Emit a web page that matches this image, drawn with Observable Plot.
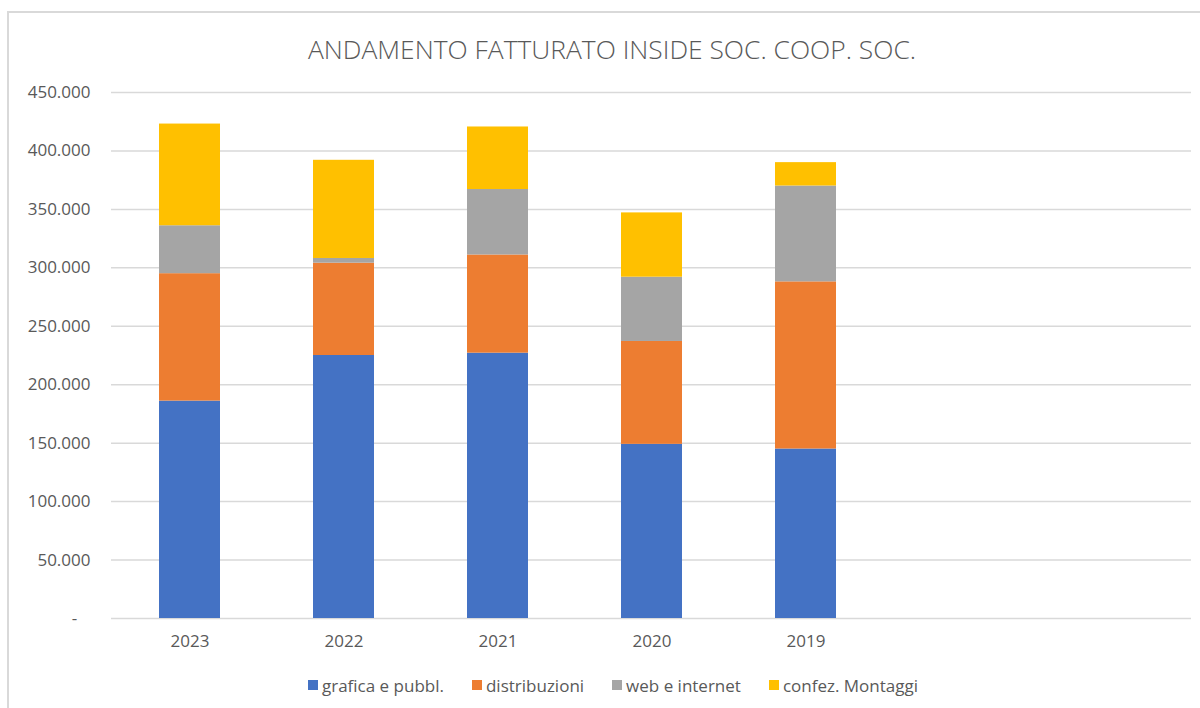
<!DOCTYPE html>
<html><head><meta charset="utf-8">
<script src="https://cdn.jsdelivr.net/npm/d3@7"></script>
<script src="https://cdn.jsdelivr.net/npm/@observablehq/plot@0.6"></script>
<style>
body{margin:0;background:#fff;}
#wrap{position:relative;width:1200px;height:708px;overflow:hidden;font-family:"Open Sans",sans-serif;background:#fff;}
#frame{position:absolute;left:7px;top:11px;width:1300px;height:800px;border:2px solid #d9d9d9;box-sizing:border-box;pointer-events:none;}
#title{height:72px;box-sizing:border-box;padding-top:35px;padding-left:24px;text-align:center;font-size:26.4px;line-height:28px;font-weight:300;color:#595959;white-space:nowrap;}
#chart svg{display:block;}
#legend{height:46px;box-sizing:border-box;padding-left:26px;display:flex;justify-content:center;align-items:center;gap:28px;font-size:17px;color:#595959;}
#legend .item{display:flex;align-items:center;gap:4px;}
#legend .sw{width:10px;height:10px;display:inline-block;}
</style></head>
<body>
<div id="wrap">
<div id="frame"></div>
<div id="title">ANDAMENTO FATTURATO INSIDE SOC. COOP. SOC.</div>
<div id="chart"></div>
<div id="legend"></div>
</div>
<script>
const years = ["2023", "2022", "2021", "2020", "2019"];
const emptyCats = ["_a", "_b"];
const seriesNames = ["grafica e pubbl.", "distribuzioni", "web e internet", "confez. Montaggi"];
const seriesColors = ["#4472C4", "#ED7D31", "#A5A5A5", "#FFC000"];
const grafica = [186000, 225000, 227000, 149000, 145000];
const distribuzioni = [109000, 79000, 84000, 88000, 143000];
const web = [41000, 4000, 56000, 55000, 82000];
const confez = [87000, 84000, 53500, 55000, 20000];
const yTicks = [0, 50000, 100000, 150000, 200000, 250000, 300000, 350000, 400000, 450000];

const seriesValues = [grafica, distribuzioni, web, confez];
const data = [];
seriesNames.forEach((s, i) => {
  years.forEach((y, j) => data.push({year: y, series: s, value: seriesValues[i][j]}));
});

const fmt = d => d === 0 ? "-\u00a0\u00a0\u00a0" : d3.format(",")(d).replace(/,/g, ".");

const chart = Plot.plot({
  width: 1200,
  height: 590,
  marginLeft: 111,
  marginRight: 9,
  marginTop: 20,
  marginBottom: 44,
  style: {fontFamily: "'Open Sans', sans-serif", fontSize: "17px", color: "#595959", background: "transparent"},
  x: {domain: [...years, ...emptyCats], paddingInner: 0.604, paddingOuter: 0.302, label: null},
  y: {domain: [0, 450000], label: null},
  color: {domain: seriesNames, range: seriesColors},
  marks: [
    Plot.ruleY(yTicks, {stroke: "#d9d9d9", strokeWidth: 1.5}),
    Plot.barY(data, {x: "year", y: "value", fill: "series", order: seriesNames}),
    Plot.axisY(yTicks, {tickSize: 0, tickPadding: 21, tickFormat: fmt, fill: "#595959", fontSize: 17}),
    Plot.axisX({tickSize: 0, tickPadding: 16, tickFormat: d => years.includes(d) ? d : "", fill: "#595959", fontSize: 17})
  ]
});
document.getElementById("chart").appendChild(chart);

const legend = document.getElementById("legend");
seriesNames.forEach((s, i) => {
  const it = document.createElement("div");
  it.className = "item";
  const sw = document.createElement("span");
  sw.className = "sw";
  sw.style.background = seriesColors[i];
  const t = document.createElement("span");
  t.textContent = s;
  it.appendChild(sw); it.appendChild(t);
  legend.appendChild(it);
});
</script>
</body></html>
